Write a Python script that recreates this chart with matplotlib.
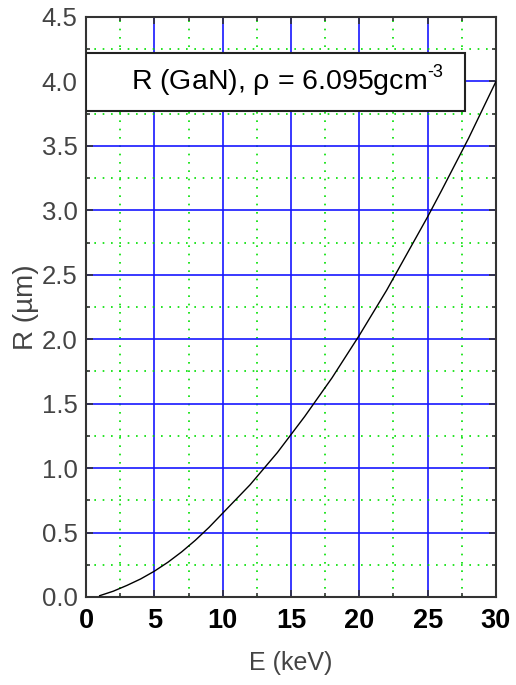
import numpy as np
import matplotlib.pyplot as plt
from matplotlib.patches import Rectangle
from matplotlib.ticker import MultipleLocator

# electron range in GaN
energy = [1, 2, 3, 4, 5, 6, 7, 8, 9, 10, 12, 14, 15, 16, 18, 20, 22, 24, 25, 26, 28, 30]
rng = [0.01, 0.045, 0.09, 0.14, 0.20, 0.27, 0.35, 0.44, 0.54, 0.65, 0.87, 1.12, 1.26,
       1.40, 1.70, 2.03, 2.38, 2.76, 2.95, 3.15, 3.56, 4.0]

title = r'R (GaN), $\rho$ = 6.095gcm'
title_exp = '-3'
xlab = 'E (keV)'
ylab = 'R (\u00b5m)'

plt.rcParams['font.family'] = ['Liberation Sans', 'DejaVu Sans']
plt.rcParams['mathtext.fontset'] = 'custom'
plt.rcParams['mathtext.rm'] = 'Liberation Sans'
plt.rcParams['mathtext.it'] = 'Liberation Sans'

fig = plt.figure(figsize=(5.16, 6.85), dpi=100)
ax = fig.add_axes([0.1667, 0.1285, 0.7945, 0.8467])

ax.plot(energy, rng, color='black', lw=1, zorder=4)

ax.set_xlim(0, 30)
ax.set_ylim(0, 4.5)
ax.xaxis.set_major_locator(MultipleLocator(5))
ax.xaxis.set_minor_locator(MultipleLocator(2.5))
ax.yaxis.set_major_locator(MultipleLocator(0.5))
ax.yaxis.set_minor_locator(MultipleLocator(0.25))
ax.set_yticks(np.arange(0, 4.51, 0.5))
ax.set_yticklabels(['%.1f' % v for v in np.arange(0, 4.51, 0.5)])

ax.grid(which='major', color='#1818ff', lw=1.2, ls='-')
ax.grid(which='minor', color='#00e000', lw=1.2, ls=(0, (1, 4)))
ax.set_axisbelow(True)

ax.tick_params(which='both', direction='in', top=True, right=True, color='#333333')
ax.tick_params(which='major', length=5, width=1.2)
ax.tick_params(which='minor', length=3, width=1.2)
ax.tick_params(axis='y', labelsize=18.5, labelcolor='#444444', pad=6)
ax.tick_params(axis='x', labelsize=19.5, pad=8)
for lbl in ax.get_xticklabels():
    lbl.set_fontweight('bold')
for s in ax.spines.values():
    s.set_linewidth(1.5)
    s.set_color('#333333')

ax.set_xlabel(xlab, fontsize=18, color='#444444', labelpad=12)
ax.set_ylabel(ylab, fontsize=20, color='#444444', labelpad=2)

ax.add_patch(Rectangle((0, 3.77), 27.7, 0.45, facecolor='white', edgecolor='#222222',
                       lw=1.5, zorder=5))
t = ax.text(14.1, 3.995, title, fontsize=20.5, ha='center', va='center', zorder=6)
fig.canvas.draw()
bb = t.get_window_extent().transformed(ax.transData.inverted())
ax.text(bb.x1 + 0.05, 4.07, title_exp, fontsize=13, ha='left', va='center', zorder=6)

fig.savefig('out.png', dpi=100)
